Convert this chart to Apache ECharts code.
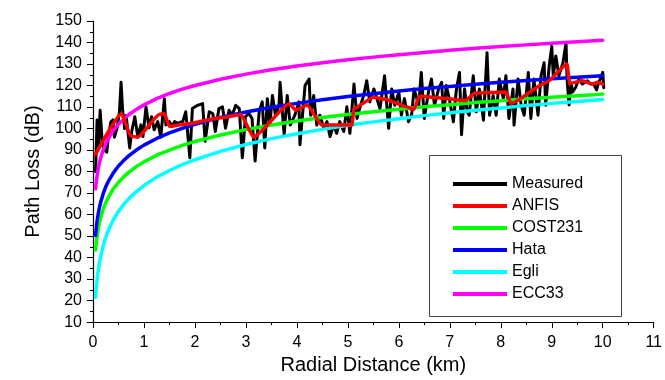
<!DOCTYPE html>
<html>
<head>
<meta charset="utf-8">
<script src="https://cdn.jsdelivr.net/npm/echarts@6/dist/echarts.min.js"></script>
<style>
html,body{margin:0;padding:0;background:#fff;}
#chart{width:665px;height:380px;}
</style>
</head>
<body>
<div id="chart"></div>
<script>
// ---- data ----
const seriesNames = ['Measured','ANFIS','COST231','Hata','Egli','ECC33'];

const measX = [0.05,0.08,0.11,0.14,0.18,0.22,0.27,0.3,0.35,0.39,0.42,0.47,0.52,0.55,0.58,0.62,0.65,0.72,0.76,0.82,0.88,0.94,0.98,1.04,1.1,1.15,1.2,1.27,1.33,1.4,1.43,1.5,1.55,1.6,1.66,1.72,1.76,
 1.82,1.9,1.95,2.05,2.15,2.2,2.28,2.35,2.4,2.47,2.54,2.6,2.67,2.73,2.8,2.87,2.93,2.99,3.06,3.12,3.18,3.26,3.32,3.37,3.42,3.47,3.52,3.58,3.65,
 3.67,3.75,3.81,3.87,3.96,4.04,4.06,4.16,4.24,4.27,4.33,4.39,4.45,4.53,4.59,4.65,4.72,4.78,4.84,4.92,4.98,5.04,5.12,5.18,5.23,5.31,5.37,5.43,5.51,
 5.53,5.63,5.72,5.8,5.86,5.92,6.0,6.05,6.11,6.19,6.25,6.3,6.39,6.44,6.5,6.58,6.64,6.7,6.78,6.84,6.88,6.93,6.99,7.07,7.13,7.19,7.23,7.29,7.34,
 7.38,7.46,7.52,7.58,7.66,7.73,7.78,7.85,7.91,7.97,8.05,8.1,8.16,8.24,8.26,8.34,8.4,8.46,8.54,8.59,8.65,8.73,8.79,8.85,8.88,8.95,9.0,9.03,9.08,9.14,
 9.22,9.28,9.3,9.34,9.38,9.41,9.47,9.53,9.6,9.7,9.76,9.82,9.88,9.92,9.97,10.0,10.02];
const measY = [80,104,92,108.5,94,90,89,96,103,104,96,100,108,121.5,109,100,106,91,98.6,105.5,96,101.7,96.3,110,100.4,105.5,99.4,103.2,96,113.9,101.7,103.2,100.9,103.2,102.4,103,103.2,
 107.8,86.4,109.3,110.8,111.6,94.1,107.8,107,98.6,109.3,110.1,100.1,108.5,106.2,110.8,109.3,86.4,105.5,107,104.7,84.9,107.8,112.4,91,113.9,101.7,115.4,106.2,110.8,
 121.5,97.1,115.4,101.6,106.2,112.4,92.5,120,123,106.2,115.4,101.6,106.2,100.1,103.2,96.3,101.6,97.8,103.2,98.6,110.1,97.8,120.7,104.7,109.3,115.4,122.2,112.4,118.4,
 118.4,109.3,124.5,100.1,118.4,110.8,116.9,106.2,113.9,103.2,106.2,118.4,110.8,126.1,104.7,116.9,123,110.8,118.4,121.5,104.7,120,113.9,103.2,118.4,126.1,97.1,118.4,107.8,
 106.2,124.5,107.8,118.4,103.9,135.2,106.2,115.4,106.2,123,113.9,124.5,104.7,118.4,101.6,123,110.8,106.2,126.1,104.7,123,106.2,124.5,130.6,110.8,129.1,138.2,124.5,133.7,124.5,
 130.6,139.8,123,111,121,117,119.2,123,120.7,122.2,120.7,120.7,118,121.5,124,126.1,119];

const anfisX = [0.05,0.56,0.74,0.88,1.3,1.4,1.5,1.8,2.5,2.9,3.15,3.85,3.98,4.2,4.49,5.08,5.12,5.5,5.75,6.1,6.3,6.4,6.9,7.3,7.5,8.1,8.2,8.9,9.3,9.35,9.6,9.8,9.9,10.0];
const anfisY = [88,107,96.5,96,106.5,107,101,102,105,106.5,96,111.5,108.5,111,101.6,101.6,109.3,114.6,113.5,110.5,109,115,114,113,116.5,117,111.6,121.5,130,121,122.2,120.7,121.5,120.7];

const modelX  = [0.05,0.06,0.07,0.08,0.1,0.12,0.15,0.2,0.25,0.3,0.4,0.5,0.6,0.7,0.85,1,1.25,1.5,1.75,2,2.5,3,3.5,4,4.5,5,5.5,6,6.5,7,7.5,8,8.5,9,9.5,10];
const cost231 = [43.5,46.0,48.1,49.9,53.0,55.5,58.5,62.5,65.5,68.0,72.0,75.0,77.5,79.6,82.3,84.5,87.6,90.0,92.2,94.0,97.0,99.5,101.6,103.5,105.1,106.5,107.8,109.0,110.1,111.1,112.1,112.9,113.8,114.6,115.3,116.0];
const hata    = [50.3,52.8,55.0,56.9,60.0,62.6,65.7,69.7,72.9,75.4,79.4,82.6,85.1,87.3,90.0,92.3,95.4,98.0,100.1,102.0,105.2,107.7,109.9,111.7,113.4,114.9,116.2,117.4,118.6,119.6,120.6,121.5,122.3,123.1,123.9,124.6];
const egli    = [21.5,24.6,27.3,29.6,33.5,36.7,40.5,45.5,49.4,52.6,57.6,61.5,64.6,67.3,70.7,73.5,77.4,80.5,83.2,85.5,89.4,92.6,95.3,97.6,99.6,101.5,103.1,104.6,106.0,107.3,108.5,109.6,110.7,111.7,112.6,113.5];
const ecc33   = [72.0,74.3,76.4,78.1,81.0,83.4,86.3,90.0,92.9,95.3,99.1,102.0,104.3,106.4,108.9,111.0,113.9,116.3,118.3,120.0,122.9,125.3,127.3,129.1,130.6,132.0,133.2,134.3,135.4,136.4,137.3,138.1,138.9,139.6,140.3,141.0];

const xTicks = [0,1,2,3,4,5,6,7,8,9,10,11];
const yTicks = [10,20,30,40,50,60,70,80,90,100,110,120,130,140,150];

// ---- chart ----
const pairs = (xs, ys) => xs.map((x, i) => [x, ys[i]]);
const colors = {Measured:'#000000', ANFIS:'#ff0000', COST231:'#00ff00', Hata:'#0000ff', Egli:'#00ffff', ECC33:'#ff00ff'};
const FONT = '"Liberation Sans", Arial, sans-serif';

function lineSeries(name, data, width, smooth) {
  return {
    name, type: 'line', data, showSymbol: false, symbol: 'none',
    smooth: smooth, smoothMonotone: 'x',
    lineStyle: {color: colors[name], width: width, join: 'round', cap: 'round'},
    itemStyle: {color: colors[name]},
    animation: false
  };
}

const chart = echarts.init(document.getElementById('chart'), null, {renderer: 'canvas'});
chart.setOption({
  animation: false,
  backgroundColor: '#ffffff',
  grid: {left: 93, right: 9, top: 21, bottom: 53, containLabel: false},
  xAxis: {
    type: 'value', min: xTicks[0], max: xTicks[xTicks.length - 1], interval: 1,
    name: 'Radial Distance (km)', nameLocation: 'middle', nameGap: 30,
    nameTextStyle: {fontFamily: FONT, fontSize: 20, color: '#000'},
    axisLine: {show: true, onZero: false, lineStyle: {color: '#000', width: 1.2}},
    axisTick: {show: true, inside: false, length: 6, lineStyle: {color: '#000'}},
    minorTick: {show: true, splitNumber: 2, length: 3, lineStyle: {color: '#000'}},
    axisLabel: {fontFamily: FONT, fontSize: 16, color: '#000', margin: 12},
    splitLine: {show: false}
  },
  yAxis: {
    type: 'value', min: yTicks[0], max: yTicks[yTicks.length - 1], interval: 10,
    name: 'Path Loss (dB)', nameLocation: 'middle', nameGap: 50, nameRotate: 90,
    nameTextStyle: {fontFamily: FONT, fontSize: 20, color: '#000'},
    axisLine: {show: true, onZero: false, lineStyle: {color: '#000', width: 1.2}},
    axisTick: {show: true, inside: false, length: 6, lineStyle: {color: '#000'}},
    minorTick: {show: true, splitNumber: 2, length: 3, lineStyle: {color: '#000'}},
    axisLabel: {fontFamily: FONT, fontSize: 16, color: '#000', margin: 11},
    splitLine: {show: false}
  },
  legend: {
    orient: 'vertical', left: 448, top: 170,
    data: seriesNames,
    icon: 'rect', itemWidth: 54, itemHeight: 4, itemGap: 4,
    textStyle: {fontFamily: FONT, fontSize: 16, color: '#000', lineHeight: 18},
    selectedMode: false
  },
  graphic: [{
    type: 'rect', left: 429, top: 155, z: 0,
    shape: {width: 192, height: 161},
    style: {fill: '#ffffff', stroke: '#444', lineWidth: 1}
  }],
  series: [
    lineSeries('Measured', pairs(measX, measY), 3, false),
    lineSeries('Egli', pairs(modelX, egli), 3.5, false),
    lineSeries('COST231', pairs(modelX, cost231), 3.5, false),
    lineSeries('Hata', pairs(modelX, hata), 3.5, false),
    lineSeries('ECC33', pairs(modelX, ecc33), 3.5, false),
    lineSeries('ANFIS', pairs(anfisX, anfisY), 3.5, 0.15)
  ]
});
</script>
</body>
</html>
